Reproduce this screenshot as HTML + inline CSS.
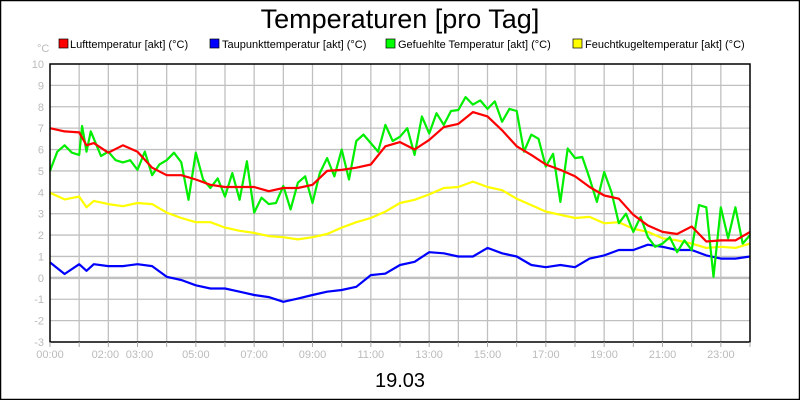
<!DOCTYPE html>
<html><head><meta charset="utf-8"><style>
body{margin:0;background:#fff}
svg{display:block;font-family:"Liberation Sans",sans-serif}
</style></head><body>
<svg id="chart" width="800" height="400" viewBox="0 0 800 400" xmlns="http://www.w3.org/2000/svg">
<rect x="0.5" y="0.5" width="799" height="399" fill="#fff" stroke="#000" stroke-width="1.5"/>
<text x="400" y="28" text-anchor="middle" font-size="27">Temperaturen [pro Tag]</text>
<g font-size="11">
<g><rect x="59" y="39" width="9" height="9" fill="#f00" stroke="#000" stroke-width="0.7"/><text x="70" y="48">Lufttemperatur [akt] (°C)</text></g>
<g><rect x="210" y="39" width="9" height="9" fill="#00f" stroke="#000" stroke-width="0.7"/><text x="222" y="48">Taupunkttemperatur [akt] (°C)</text></g>
<g><rect x="386" y="39" width="9" height="9" fill="#0f0" stroke="#000" stroke-width="0.7"/><text x="398" y="48">Gefuehlte Temperatur [akt] (°C)</text></g>
<g><rect x="573" y="39" width="9" height="9" fill="#ff0" stroke="#000" stroke-width="0.7"/><text x="585" y="48">Feuchtkugeltemperatur [akt] (°C)</text></g>
</g>
<text x="37" y="52" font-size="11" fill="#bbb">°C</text>
<g id="grid"></g>
<g id="series"></g>
<rect x="50" y="64" width="700" height="278" fill="none" stroke="#000" stroke-width="1.5"/>
<g id="axes"></g>
<text x="400" y="387" text-anchor="middle" font-size="20">19.03</text>
</svg>
<script>
const yTicks=[10,9,8,7,6,5,4,3,2,1,0,-1,-2,-3];
const xLabels=["00:00","02:00","03:00","05:00","07:00","09:00","11:00","13:00","15:00","17:00","19:00","21:00","23:00"];
const xLabelHours=[0,2,3,5,7,9,11,13,15,17,19,21,23];
const luftHours=[0,0.5,1,1.25,1.5,2,2.5,3,3.5,4,4.5,5,5.5,6,6.5,7,7.5,8,8.5,9,9.5,10,10.5,11,11.5,12,12.5,13,13.5,14,14.5,15,15.5,16,16.5,17,17.5,18,18.5,19,19.5,20,20.5,21,21.5,22,22.5,23,23.5,24];
const luft=[7.0,6.85,6.8,6.2,6.3,5.85,6.2,5.9,5.15,4.8,4.8,4.6,4.35,4.25,4.25,4.25,4.05,4.2,4.2,4.35,5.0,5.05,5.15,5.3,6.15,6.35,6.0,6.45,7.05,7.2,7.75,7.55,6.9,6.15,5.75,5.3,5.05,4.75,4.25,3.85,3.7,2.95,2.45,2.15,2.05,2.4,1.7,1.75,1.75,2.15];
const feucht=[3.98,3.67,3.8,3.3,3.6,3.45,3.35,3.5,3.45,3.05,2.8,2.6,2.6,2.35,2.2,2.1,1.95,1.9,1.8,1.9,2.05,2.35,2.6,2.8,3.1,3.5,3.65,3.9,4.2,4.25,4.5,4.25,4.1,3.7,3.4,3.1,2.95,2.8,2.85,2.55,2.6,2.3,2.15,1.85,1.75,1.6,1.4,1.45,1.4,1.6];
const tau=[0.72,0.18,0.64,0.33,0.64,0.55,0.55,0.64,0.55,0.05,-0.1,-0.35,-0.5,-0.5,-0.65,-0.8,-0.9,-1.12,-0.97,-0.8,-0.65,-0.57,-0.42,0.13,0.2,0.6,0.75,1.2,1.15,1.0,1.0,1.4,1.15,1.0,0.6,0.5,0.6,0.5,0.9,1.05,1.3,1.3,1.55,1.45,1.3,1.3,1.05,0.9,0.9,1.0];
const gefuehltHours=[0,0.25,0.5,0.75,1,1.1,1.25,1.4,1.75,2,2.25,2.5,2.75,3,3.25,3.5,3.75,4,4.25,4.5,4.75,5,5.25,5.5,5.75,6,6.25,6.5,6.75,7,7.25,7.5,7.75,8,8.25,8.5,8.75,9,9.25,9.5,9.75,10,10.25,10.5,10.75,11,11.25,11.5,11.75,12,12.25,12.5,12.75,13,13.25,13.5,13.75,14,14.25,14.5,14.75,15,15.25,15.5,15.75,16,16.25,16.5,16.75,17,17.25,17.5,17.75,18,18.25,18.5,18.75,19,19.25,19.5,19.75,20,20.25,20.5,20.75,21,21.25,21.5,21.75,22,22.25,22.5,22.75,23,23.25,23.5,23.75,24];
const gefuehlt=[5.0,5.9,6.2,5.85,5.75,7.1,5.9,6.85,5.7,5.9,5.5,5.4,5.5,5.05,5.9,4.8,5.3,5.5,5.85,5.4,3.65,5.85,4.6,4.2,4.65,3.8,4.9,3.65,5.45,3.05,3.75,3.45,3.5,4.3,3.2,4.45,4.75,3.5,4.9,5.6,4.75,6.0,4.6,6.4,6.7,6.3,5.9,7.15,6.4,6.6,7.0,5.75,7.55,6.75,7.7,7.15,7.8,7.85,8.45,8.1,8.3,7.9,8.25,7.3,7.9,7.8,5.9,6.7,6.5,5.2,5.8,3.55,6.05,5.6,5.65,4.65,3.55,4.95,4.0,2.55,3.0,2.15,2.85,1.9,1.45,1.6,1.9,1.2,1.75,1.3,3.4,3.3,0.05,3.3,1.85,3.3,1.6,2.0];

const X0=50,X1=750,Y0=64,Y1=342,VMIN=-3,VMAX=10;
const xs=h=>X0+(X1-X0)*h/24;
const ys=v=>Y1-(Y1-Y0)*(v-VMIN)/(VMAX-VMIN);
const NS="http://www.w3.org/2000/svg";
function mk(tag,attrs,parent){const e=document.createElementNS(NS,tag);for(const k in attrs)e.setAttribute(k,attrs[k]);parent.appendChild(e);return e;}
const grid=document.getElementById('grid'),axes=document.getElementById('axes'),series=document.getElementById('series');
for(let h=1;h<24;h++){const l=mk('line',{x1:xs(h),x2:xs(h),y1:Y0,y2:Y1,stroke:'#c0c0c0','stroke-width':1.3},grid);

}
for(let h=0;h<=24;h++){const t=mk('line',{x1:xs(h),x2:xs(h),y1:Y1,y2:Y1+5,stroke:'#aaa','stroke-width':1},axes);

}
yTicks.forEach(v=>{
 if(v!==VMAX&&v!==VMIN){const l=mk('line',{x1:X0,x2:X1,y1:ys(v),y2:ys(v),stroke:'#c0c0c0','stroke-width':v===0?2.5:1.3},grid);
 
 }
 const t=mk('text',{x:44,y:ys(v)+4,'text-anchor':'end','font-size':11,fill:'#bbb'},axes);t.textContent=v;
 
 
});
xLabels.forEach((s,i)=>{let x=xs(xLabelHours[i]);if(s==="02:00")x-=3;if(s==="03:00")x+=2;
 const t=mk('text',{x:x,y:358,'text-anchor':'middle','font-size':11,fill:'#bbb'},axes);t.textContent=s;
 
 });
function line(hours,vals,color,name){const d=hours.map((h,i)=>(i?'L':'M')+xs(h).toFixed(1)+' '+ys(vals[i]).toFixed(1)).join(' ');
 const p=mk('path',{d:d,fill:'none',stroke:color,'stroke-width':2.2,'stroke-linejoin':'round'},series);
 
 }
line(luftHours,feucht,'#ffff00','series-feuchtkugeltemperatur');
line(luftHours,tau,'#0000ff','series-taupunkttemperatur');
line(gefuehltHours,gefuehlt,'#00ee00','series-gefuehlte-temperatur');
line(luftHours,luft,'#ff0000','series-lufttemperatur');
</script>
</body></html>
